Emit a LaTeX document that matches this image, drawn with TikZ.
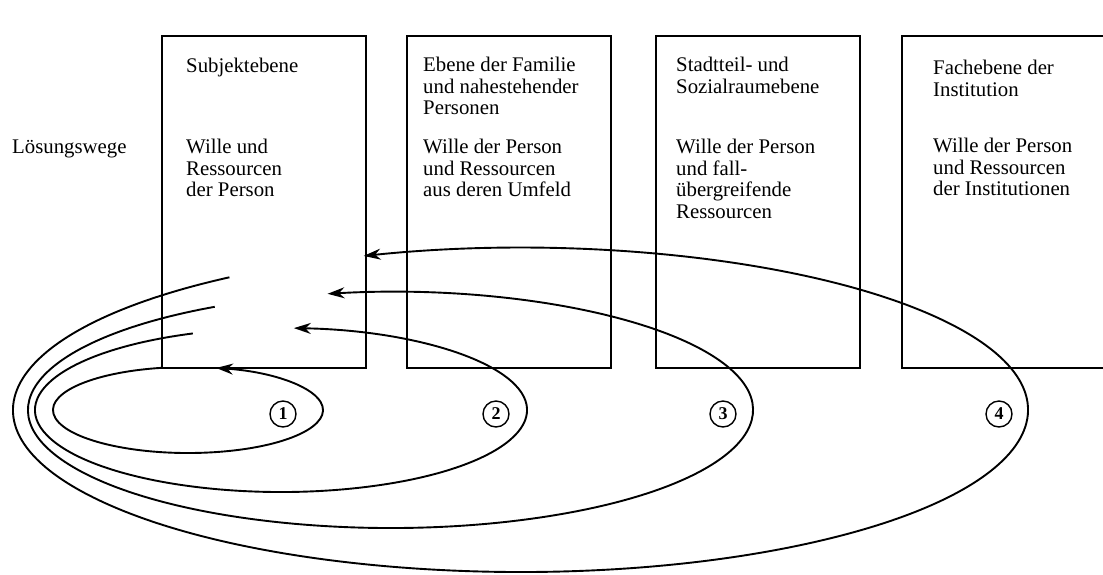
\documentclass[tikz,border=0pt]{standalone}
\usepackage{fontspec}
\setmainfont{Liberation Serif}
\usetikzlibrary{positioning, arrows.meta}
\tikzset{
>={Stealth[length=17pt, width=11pt]}, % filled arrow heads
level/.style={draw, line width=2.6pt, outer sep=0pt, inner sep=0pt,
  minimum width=204pt, minimum height=332pt}, % the four level boxes
lvltext/.style={anchor=north west, align=left, inner sep=0pt,
  font=\fontsize{20.8}{21.5}\selectfont, execute at begin node=\strut}, % text inside the boxes
way/.style={->, line width=1.9pt}, % the solution loops
stepno/.style={circle, draw, line width=1.4pt, minimum size=26pt, inner sep=0pt,
  font=\fontsize{18}{18}\selectfont\bfseries}, % circled numbers
}
\begin{document}
\begin{tikzpicture}[x=1pt, y=-1pt]
\useasboundingbox (0,0) rectangle (1103,574);
\clip (0,0) rectangle (1103,574);
\fill[white] (0,0) rectangle (1103,574);
% boxes
\node[level] (B1) at (264,202) {};
\node[level, right=41pt of B1] (B2) {};
\node[level, right=45pt of B2] (B3) {};
\node[level, right=42pt of B3] (B4) {};
% texts (first baseline = 15pt below the anchor)
\node[lvltext] (LW) at (12,138) {Lösungswege};
\node[lvltext] (T1) at ([shift={(24pt,-21pt)}]B1.north west) {Subjektebene};
\node[lvltext] (W1) at ([shift={(24pt,-103pt)}]B1.north west) {Wille und\\Ressourcen\\der Person};
\node[lvltext] (T2) at ([shift={(16pt,-21pt)}]B2.north west) {Ebene der Familie\\und nahestehender\\Personen};
\node[lvltext] (W2) at ([shift={(16pt,-103pt)}]B2.north west) {Wille der Person\\und Ressourcen\\aus deren Umfeld};
\node[lvltext] (T3) at ([shift={(20pt,-21pt)}]B3.north west) {Stadtteil- und\\Sozialraumebene};
\node[lvltext] (W3) at ([shift={(20pt,-103pt)}]B3.north west) {Wille der Person\\und fall-\\übergreifende\\Ressourcen};
\node[lvltext] (T4) at ([shift={(31pt,-24pt)}]B4.north west) {Fachebene der\\Institution};
\node[lvltext] (W4) at ([shift={(31pt,-102pt)}]B4.north west) {Wille der Person\\und Ressourcen\\der Institutionen};
% loops
\coordinate (C1) at (188,410);
\coordinate (C2) at (281,410);
\coordinate (C3) at (390.5,410);
\coordinate (C4) at (520.5,410);
\draw[way] (C1) ++(259:135 and 43) arc[start angle=259, end angle=-78, x radius=135, y radius=43];
\draw[way] (C2) ++(249:246 and 82) arc[start angle=249, end angle=-87, x radius=246, y radius=82];
\draw[way] (C3) ++(241:362.5 and 118) arc[start angle=241, end angle=-100, x radius=362.5, y radius=118];
\draw[way] (C4) ++(235:507.5 and 162) arc[start angle=235, end angle=-108, x radius=507.5, y radius=162];
% numbers
\node[stepno] (N1) at (283,414) {1};
\node[stepno] (N2) at (496,414) {2};
\node[stepno] (N3) at (723,414) {3};
\node[stepno] (N4) at (999,414) {4};
\end{tikzpicture}
\end{document}
